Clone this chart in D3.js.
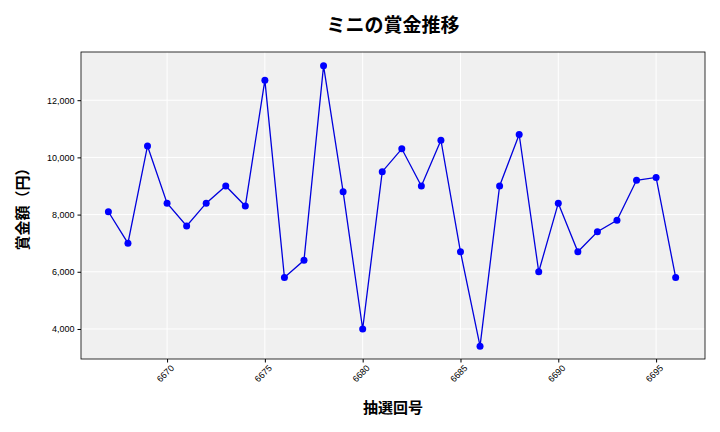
<!DOCTYPE html>
<html><head><meta charset="utf-8">
<script src="https://cdn.jsdelivr.net/npm/d3@7"></script>
<style>body{margin:0;background:#fff;font-family:"Noto Sans CJK JP","Noto Sans",sans-serif;}</style>
</head><body><div id="chart"></div>
<script>
// chart data
const draws = d3.range(6667, 6697);
const prizes = [8100, 7000, 10400, 8400, 7600, 8400, 9000, 8300, 12700, 5800,
  6400, 13200, 8800, 4000, 9500, 10300, 9000, 10600, 6700, 3400,
  9000, 10800, 6000, 8400, 6700, 7400, 7800, 9200, 9300, 5800];
const xTicks = [6670, 6675, 6680, 6685, 6690, 6695];
const yTicks = [4000, 6000, 8000, 10000, 12000];

const svgWidth = 720, svgHeight = 432;
const margin = {top: 52, right: 15, bottom: 73, left: 81};
const width = svgWidth - margin.left - margin.right;
const height = svgHeight - margin.top - margin.bottom;

const svg = d3.select('#chart').append('svg')
  .attr('width', svgWidth).attr('height', svgHeight);
const g = svg.append('g').attr('transform', `translate(${margin.left},${margin.top})`);

const x = d3.scaleLinear().domain([6665.6, 6697.5]).range([0, width]);
const y = d3.scaleLinear().domain([2950, 13685]).range([height, 0]);

g.append('rect').attr('width', width).attr('height', height).attr('fill', '#f0f0f0');

// grid
g.selectAll('.gx').data(xTicks).enter().append('line')
  .attr('x1', d => x(d)).attr('x2', d => x(d)).attr('y1', 0).attr('y2', height)
  .attr('stroke', '#fff').attr('stroke-width', 1);
g.selectAll('.gy').data(yTicks).enter().append('line')
  .attr('y1', d => y(d)).attr('y2', d => y(d)).attr('x1', 0).attr('x2', width)
  .attr('stroke', '#fff').attr('stroke-width', 1);

g.append('rect').attr('width', width).attr('height', height)
  .attr('fill', 'none').attr('stroke', '#000').attr('stroke-width', 0.8);

// axes
const xAxis = g.append('g').attr('transform', `translate(0,${height})`)
  .call(d3.axisBottom(x).tickValues(xTicks).tickFormat(d3.format('d')).tickSize(3.5));
xAxis.select('.domain').remove();
xAxis.selectAll('text').attr('font-size', 9).attr('text-anchor', 'end')
  .attr('transform', 'rotate(-45)').attr('dx', '-0.2em').attr('dy', '0.6em');

const yAxis = g.append('g')
  .call(d3.axisLeft(y).tickValues(yTicks).tickFormat(d3.format(',')).tickSize(3.5));
yAxis.select('.domain').remove();
yAxis.selectAll('text').attr('font-size', 9);

// line and points
g.append('path').datum(prizes)
  .attr('fill', 'none').attr('stroke', '#0000dd').attr('stroke-width', 1.3)
  .attr('d', d3.line().x((d, i) => x(draws[i])).y(d => y(d)));
g.selectAll('circle').data(prizes).enter().append('circle')
  .attr('cx', (d, i) => x(draws[i])).attr('cy', d => y(d)).attr('r', 3.5)
  .attr('fill', '#0000ff');

// labels
svg.append('text').attr('x', margin.left + width / 2).attr('y', 32)
  .attr('text-anchor', 'middle').attr('font-size', 19).attr('font-weight', 'bold')
  .text('ミニの賞金推移');
svg.append('text').attr('x', margin.left + width / 2).attr('y', 413)
  .attr('text-anchor', 'middle').attr('font-size', 15).attr('font-weight', 'bold')
  .text('抽選回号');
svg.append('text').attr('transform', `translate(28,${margin.top + height / 2}) rotate(-90)`)
  .attr('text-anchor', 'middle').attr('font-size', 15).attr('font-weight', 'bold')
  .text('賞金額（円）');
</script></body></html>
